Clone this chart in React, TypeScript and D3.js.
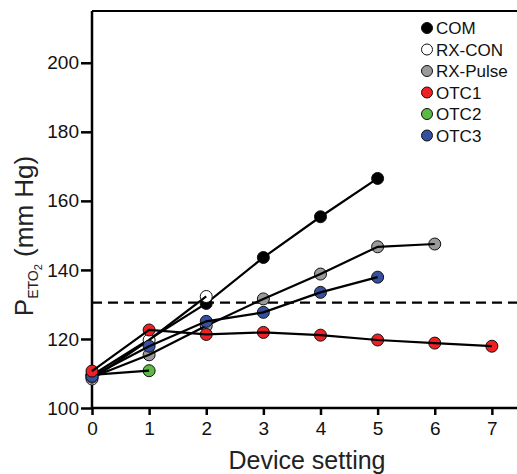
import React, { useEffect, useRef } from 'react';
import * as d3 from 'd3';

// Device settings on the x axis
const settings = [0, 1, 2, 3, 4, 5, 6, 7];

// PETO2 values (mm Hg) per device, one value per setting
const comValues = [109.5, null, 130.3, 143.6, 155.4, 166.5];
const rxConValues = [108.4, 119.7, 132.3];
const rxPulseValues = [108.9, 115.4, 123.8, 131.6, 138.8, 146.7, 147.5];
const otc1Values = [110.7, 122.6, 121.3, 121.9, 121.1, 119.7, 118.8, 117.9];
const otc2Values = [109.6, 110.8];
const otc3Values = [109.2, 117.9, 125.1, 127.7, 133.5, 137.9];

const seriesNames = ['COM', 'RX-CON', 'RX-Pulse', 'OTC1', 'OTC2', 'OTC3'];
const seriesColors = ['#000000', '#ffffff', '#9a9a9a', '#ee2024', '#5cb946', '#34509f'];

const yTicks = [100, 120, 140, 160, 180, 200];
const thresholdValue = 130.5;

function App() {
  const svgRef = useRef<SVGSVGElement>(null);

  useEffect(() => {
    const width = 517;
    const height = 474;
    const margin = { top: 11, left: 92, bottom: 66 };

    const svg = d3.select(svgRef.current);
    svg.selectAll('*').remove();
    svg.attr('width', width).attr('height', height);

    const x = d3.scaleLinear().domain([0, 7.44]).range([margin.left, width]);
    const y = d3.scaleLinear().domain([100, 215]).range([height - margin.bottom, margin.top]);

    const font = "'Liberation Sans', Arial, sans-serif";

    // frame top line
    svg.append('line')
      .attr('x1', x(0)).attr('x2', width)
      .attr('y1', y(215)).attr('y2', y(215))
      .attr('stroke', '#000').attr('stroke-width', 2);

    // axes
    const xAxis = svg.append('g')
      .attr('transform', `translate(0,${y(100)})`)
      .call(d3.axisBottom(x).tickValues(settings).tickSize(7).tickSizeOuter(0).tickPadding(7));
    const yAxis = svg.append('g')
      .attr('transform', `translate(${x(0)},0)`)
      .call(d3.axisLeft(y).tickValues(yTicks).tickSize(11).tickSizeOuter(0).tickPadding(2));

    [xAxis, yAxis].forEach(g => {
      g.select('.domain').attr('stroke', '#000').attr('stroke-width', 2.5);
      g.selectAll('.tick line').attr('stroke', '#000').attr('stroke-width', 2.5);
      g.selectAll('.tick text')
        .attr('fill', '#111')
        .style('font-family', font)
        .style('font-size', '19px');
    });
    xAxis.select('.domain').attr('d', `M${x(0)},0H${width}`);
    yAxis.select('.domain').attr('d', `M0,${y(100)}V${y(215)}`);

    // dashed threshold
    svg.append('line')
      .attr('x1', x(0)).attr('x2', width)
      .attr('y1', y(thresholdValue)).attr('y2', y(thresholdValue))
      .attr('stroke', '#000').attr('stroke-width', 2.2)
      .attr('stroke-dasharray', '10,6');

    const allValues = [comValues, rxConValues, rxPulseValues, otc1Values, otc2Values, otc3Values];
    const drawOrder = [0, 1, 2, 4, 5, 3];

    const line = d3.line<[number, number]>()
      .x(d => x(d[0]))
      .y(d => y(d[1]));

    drawOrder.forEach(i => {
      const pts: [number, number][] = allValues[i]
        .map((v, j) => [settings[j], v] as [number, number | null])
        .filter(d => d[1] != null) as [number, number][];
      const g = svg.append('g');
      g.selectAll('circle')
        .data(pts)
        .enter().append('circle')
        .attr('cx', d => x(d[0]))
        .attr('cy', d => y(d[1]))
        .attr('r', 6)
        .attr('fill', seriesColors[i])
        .attr('stroke', '#111')
        .attr('stroke-width', 1);
      g.append('path')
        .attr('d', line(pts))
        .attr('fill', 'none')
        .attr('stroke', '#000')
        .attr('stroke-width', 2.2);
    });

    // legend
    const legend = svg.append('g');
    seriesNames.forEach((name, i) => {
      const ly = 28 + i * 21.5;
      legend.append('circle')
        .attr('cx', 427).attr('cy', ly).attr('r', 5.5)
        .attr('fill', seriesColors[i])
        .attr('stroke', '#111').attr('stroke-width', 1);
      legend.append('text')
        .attr('x', 436).attr('y', ly + 6)
        .style('font-family', font)
        .style('font-size', '17px')
        .attr('fill', '#111')
        .text(name);
    });

    // x label
    svg.append('text')
      .attr('x', 307)
      .attr('y', 469)
      .attr('text-anchor', 'middle')
      .style('font-family', font)
      .style('font-size', '25px')
      .attr('fill', '#222')
      .text('Device setting');

    // y label with subscripts
    const yl = svg.append('text')
      .attr('transform', `translate(33,236) rotate(-90)`)
      .attr('text-anchor', 'middle')
      .style('font-family', font)
      .style('font-size', '26px')
      .attr('fill', '#222');
    yl.append('tspan').text('P');
    yl.append('tspan').attr('dy', 5).style('font-size', '14px').text('ETO');
    yl.append('tspan').attr('dy', 4).style('font-size', '11px').text('2');
    yl.append('tspan').attr('dy', -9).text(' (mm Hg)');
  }, []);

  return (
    <div style={{ position: 'absolute', left: 0, top: 0 }}>
      <svg ref={svgRef} style={{ display: 'block' }}></svg>
    </div>
  );
}

export default App;
